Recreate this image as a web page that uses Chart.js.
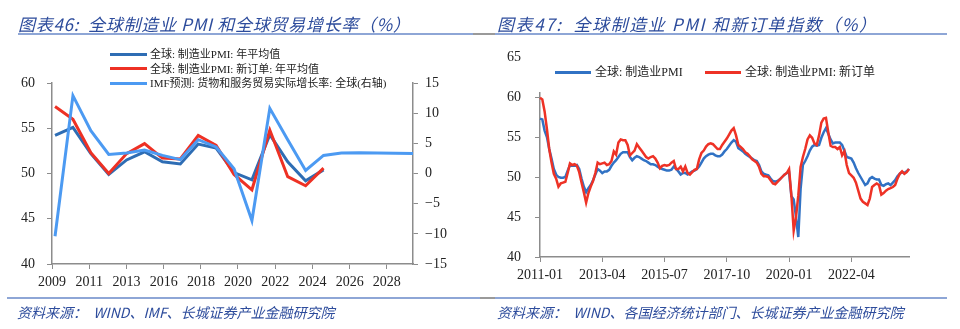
<!DOCTYPE html>
<html>
<head>
<meta charset="utf-8">
<script src="https://cdn.jsdelivr.net/npm/chart.js@4.4.1/dist/chart.umd.min.js"></script>
<style>
body{margin:0;background:#fff;width:960px;height:329px;position:relative;overflow:hidden;font-family:"Liberation Serif","Noto Sans CJK SC",serif;}
canvas{position:absolute;top:0}
.title{position:absolute;top:13px;font-family:"Noto Sans CJK SC",sans-serif;font-style:italic;font-size:17px;line-height:22px;color:#2d4c9c;white-space:nowrap}
.src{position:absolute;top:302px;font-family:"Noto Sans CJK SC",sans-serif;font-style:italic;font-size:14px;line-height:20px;color:#2d4c9c;white-space:nowrap}
.rule{position:absolute;height:2px;background:#8ea6d6}
.rule.gray{background:#9a9a9a}
.lg{position:absolute;font-size:11px;color:#222;white-space:nowrap;font-family:"Liberation Serif","Noto Sans CJK SC",serif}
.lg .row{height:14.5px;line-height:14.5px;display:flex;align-items:center}
.lg .ln{display:inline-block;width:37px;height:3px;margin-right:3px}
.lg2{position:absolute;left:530px;top:50px;width:356px;height:42px;background:#fff;font-size:12px;color:#222;white-space:nowrap;font-family:"Liberation Serif","Noto Sans CJK SC",serif}
.lg2 .it{position:absolute;top:14px;line-height:16px;display:flex;align-items:center}
.lg2 .ln{display:inline-block;width:36px;height:3px;margin-right:4px}
</style>
</head>
<body>
<canvas id="pmi-trade" width="480" height="329" style="left:0"></canvas>
<canvas id="pmi-orders" width="480" height="329" style="left:480px"></canvas>

<div class="title" style="left:18px;letter-spacing:0.7px">图表46:&nbsp; 全球制造业 PMI 和全球贸易增长率（%）</div>
<div class="title" style="left:497px;letter-spacing:1.6px">图表47:&nbsp; 全球制造业 PMI 和新订单指数（%）</div>
<div class="rule" style="left:18px;top:33px;width:455px"></div>
<div class="rule gray" style="left:473px;top:33px;width:22px"></div>
<div class="rule" style="left:495px;top:33px;width:452px"></div>

<div class="rule" style="left:7px;top:297px;width:473px"></div>
<div class="rule gray" style="left:480px;top:297px;width:15px"></div>
<div class="rule" style="left:495px;top:297px;width:452px"></div>
<div class="src" style="left:17px">资料来源：&nbsp; WIND、IMF、长城证券产业金融研究院</div>
<div class="src" style="left:497px">资料来源：&nbsp; WIND、各国经济统计部门、长城证券产业金融研究院</div>

<div class="lg" style="left:110px;top:47px">
  <div class="row"><span class="ln" style="background:#2e6db4"></span>全球: 制造业PMI: 年平均值</div>
  <div class="row"><span class="ln" style="background:#ee3124"></span>全球: 制造业PMI: 新订单: 年平均值</div>
  <div class="row"><span class="ln" style="background:#4c9af2"></span>IMF预测: 货物和服务贸易实际增长率: 全球(右轴)</div>
</div>
<div class="lg2">
  <div class="it" style="left:25px"><span class="ln" style="background:#3172c4"></span>全球: 制造业PMI</div>
  <div class="it" style="left:175px"><span class="ln" style="background:#ee3226"></span>全球: 制造业PMI: 新订单</div>
</div>

<script>
// ---- 图表46 年度数据 ----
const years = [2009, 2010, 2011, 2012, 2013, 2014, 2015, 2016, 2017, 2018, 2019, 2020, 2021, 2022, 2023, 2024, 2025, 2026, 2027, 2028, 2029];
const pmiAvg = [54.2, 55.1, 52.2, 49.9, 51.5, 52.4, 51.3, 51.05, 53.25, 52.8, 50.1, 49.3, 54.3, 51.3, 49.2, 50.4];
const newOrderAvg = [57.4, 56.0, 52.3, 50.0, 52.2, 53.3, 51.7, 51.6, 54.2, 53.1, 49.9, 48.2, 54.8, 49.65, 48.65, 50.6];
const imfTrade = [-10.4, 12.9, 7.1, 3.15, 3.4, 3.9, 3.0, 2.3, 5.6, 4.4, 0.8, -7.8, 10.8, 5.6, 0.5, 3.0, 3.4, 3.45, 3.4, 3.35, 3.3];
// excel date axis: ticks every ~2.08 years
const yearTickPos = [2008.83, 2010.91, 2012.99, 2015.07, 2017.15, 2019.22, 2021.30, 2023.38, 2025.46, 2027.54];
const yearTickLabels = ['2009', '2011', '2013', '2016', '2018', '2020', '2022', '2024', '2026', '2028'];

// ---- 图表47 月度数据 2011-01 起 ----
const pmiMonthly = [
  57.3, 57.2, 55.8, 55.0, 53.5, 52.3, 51.0, 50.3, 50.0, 49.9,
  49.9, 50.0, 50.8, 51.5, 51.4, 51.4, 51.5, 51.0, 49.8, 48.8,
  48.1, 48.6, 49.0, 49.6, 50.3, 51.0, 50.8, 50.5, 50.7, 50.7,
  50.9, 51.4, 51.8, 52.1, 52.5, 52.9, 53.1, 53.1, 53.1, 52.5,
  52.1, 52.4, 52.6, 52.5, 52.3, 52.1, 52.0, 51.8, 51.6, 51.6,
  51.5, 51.3, 51.1, 51.0, 50.9, 50.8, 50.8, 50.9, 51.3, 51.0,
  50.7, 50.3, 50.5, 50.5, 50.3, 50.5, 50.7, 50.8, 51.0, 51.3,
  51.8, 52.3, 52.6, 52.8, 52.9, 52.9, 52.7, 52.6, 52.6, 52.8,
  53.2, 53.5, 53.9, 54.3, 54.6, 54.4, 53.6, 53.4, 53.2, 52.9,
  52.7, 52.5, 52.3, 52.1, 52.0, 51.5, 50.7, 50.4, 50.3, 50.2,
  49.8, 49.5, 49.4, 49.5, 49.7, 50.0, 50.3, 50.5, 50.6, 47.6,
  47.2, 45.0, 42.5, 48.5, 51.5, 52.0, 52.6, 53.3, 53.8, 54.0,
  53.9, 54.0, 54.9, 55.6, 56.1, 55.4, 54.7, 54.2, 54.3, 54.3,
  54.3, 54.0, 53.3, 52.5, 52.4, 52.3, 51.8, 51.1, 50.5, 50.0,
  49.5, 49.0, 49.2, 49.8, 50.0, 49.8, 49.7, 49.7, 49.0, 48.9,
  49.1, 49.2, 49.0, 49.3, 49.6, 50.1, 50.4, 50.6, 50.5, 50.7, 51.0
];
const newOrdersMonthly = [
  59.9, 59.7, 58.2, 56.0, 53.5, 51.8, 50.4, 49.8, 48.8, 49.2,
  49.3, 49.4, 50.5, 51.7, 51.5, 51.6, 51.4, 50.6, 49.3, 48.1,
  46.8, 48.0, 48.8, 49.5, 50.5, 51.8, 51.6, 51.7, 51.8, 51.5,
  51.6, 52.0, 53.2, 52.8, 54.3, 54.7, 54.6, 54.6, 54.0, 52.7,
  53.0, 53.3, 54.1, 53.7, 53.3, 52.9, 52.5, 52.3, 52.5, 52.6,
  52.3, 51.8, 51.1, 51.4, 51.5, 51.4, 51.5, 51.8, 52.0, 51.0,
  51.0, 51.3, 50.7, 51.3, 50.5, 50.3, 50.6, 50.9, 51.0, 52.2,
  53.0, 53.3, 53.8, 54.1, 54.2, 54.1, 53.8, 53.5, 53.5, 54.0,
  54.4, 54.8, 55.3, 55.8, 56.1, 55.2, 54.0, 53.75, 53.5, 53.1,
  52.9, 52.6, 52.2, 52.0, 51.8, 51.25, 50.4, 50.1, 50.1, 50.0,
  49.6, 49.2, 49.1, 49.4, 49.7, 50.0, 50.3, 50.5, 51.0, 47.7,
  43.3, 45.0, 47.7, 51.25, 52.5, 53.5, 54.7, 55.2, 54.9, 54.2,
  54.0, 55.2, 56.8, 57.3, 57.4, 55.6, 53.9, 53.75, 53.75, 53.5,
  53.75, 52.7, 53.2, 51.5, 50.5, 50.2, 49.9, 49.3, 48.3, 47.3,
  46.9, 46.7, 46.5, 47.3, 48.75, 49.0, 49.2, 49.0, 47.8, 48.0,
  48.3, 48.5, 48.6, 48.75, 49.0, 49.8, 50.4, 50.7, 50.4, 50.6, 51.0
];
const startYear = 2011;
const monthLabels = [];
for (let i = 0; i < pmiMonthly.length; i++) {
  const y = startYear + Math.floor(i / 12);
  const m = (i % 12) + 1;
  monthLabels.push(y + '-' + (m < 10 ? '0' + m : m));
}

const axisGray = '#8c8c8c';
const tickFont = {family: 'Liberation Serif', size: 14};

function toPoints(vals) {
  return vals.map((v, i) => ({x: years[i], y: v}));
}

const ctx = document.getElementById('pmi-trade').getContext('2d');
const chartTrade = new Chart(ctx, {
  type: 'line',
  data: {
    datasets: [{
      label: 'IMF预测: 货物和服务贸易实际增长率: 全球(右轴)',
      data: toPoints(imfTrade),
      borderColor: '#4c9af2',
      borderWidth: 3,
      yAxisID: 'y1'
    }, {
      label: '全球: 制造业PMI: 新订单: 年平均值',
      data: toPoints(newOrderAvg),
      borderColor: '#ee3124',
      borderWidth: 3,
      yAxisID: 'y'
    }, {
      label: '全球: 制造业PMI: 年平均值',
      data: toPoints(pmiAvg),
      borderColor: '#2e6db4',
      borderWidth: 3,
      yAxisID: 'y'
    }]
  },
  options: {
    responsive: false,
    animation: false,
    devicePixelRatio: 1,
    layout: {padding: {top: 83, bottom: 35, left: 0, right: 0}},
    elements: {point: {radius: 0}, line: {tension: 0}},
    plugins: {legend: {display: false}, tooltip: {enabled: false}},
    scales: {
      x: {
        type: 'linear',
        min: 2008.83,
        max: 2029,
        afterBuildTicks: s => { s.ticks = yearTickPos.map(v => ({value: v})); },
        afterFit: s => { s.height = 30; },
        ticks: {autoSkip: false, maxRotation: 0, padding: 5, color: '#222', font: tickFont,
          callback: (v, i) => yearTickLabels[i]},
        grid: {drawOnChartArea: false, color: axisGray, tickLength: 5},
        border: {color: axisGray, width: 1.5}
      },
      y: {
        position: 'left',
        min: 40, max: 60,
        afterFit: s => { s.width = 52; },
        ticks: {stepSize: 5, padding: 12, color: '#222', font: tickFont},
        grid: {drawOnChartArea: false, color: axisGray, tickLength: 5},
        border: {color: axisGray, width: 1.5}
      },
      y1: {
        position: 'right',
        min: -15, max: 15,
        afterFit: s => { s.width = 67; },
        ticks: {stepSize: 5, padding: 7, color: '#222', font: tickFont,
          callback: v => v < 0 ? '\u2212' + Math.abs(v) : v},
        grid: {drawOnChartArea: false, color: axisGray, tickLength: 5},
        border: {color: axisGray, width: 1.5}
      }
    }
  }
});

const ctw = document.getElementById('pmi-orders').getContext('2d');
const chartOrders = new Chart(ctw, {
  type: 'line',
  data: {
    labels: monthLabels,
    datasets: [{
      label: '全球: 制造业PMI: 新订单',
      data: newOrdersMonthly,
      borderColor: '#ee3226',
      borderWidth: 2.5
    }, {
      label: '全球: 制造业PMI',
      data: pmiMonthly,
      borderColor: '#3172c4',
      borderWidth: 2.5
    }]
  },
  options: {
    responsive: false,
    animation: false,
    devicePixelRatio: 1,
    layout: {padding: {top: 57, bottom: 42, left: 0, right: 51}},
    elements: {point: {radius: 0}, line: {tension: 0}},
    plugins: {legend: {display: false}, tooltip: {enabled: false}},
    scales: {
      x: {
        offset: false,
        afterBuildTicks: s => { s.ticks = s.ticks.filter(t => t.value % 27 === 0); },
        afterFit: s => { s.height = 30; },
        ticks: {autoSkip: false, maxRotation: 0, padding: 5, color: '#222', font: tickFont,
          callback: function (v) { return this.getLabelForValue(v); }},
        grid: {drawOnChartArea: false, color: axisGray, tickLength: 5},
        border: {color: axisGray, width: 1.5}
      },
      y: {
        min: 40, max: 65,
        afterFit: s => { s.width = 60; },
        ticks: {stepSize: 5, padding: 14, color: '#222', font: tickFont},
        grid: {drawOnChartArea: false, color: axisGray, tickLength: 5},
        border: {color: axisGray, width: 1.5}
      }
    }
  }
});
</script>
</body>
</html>
